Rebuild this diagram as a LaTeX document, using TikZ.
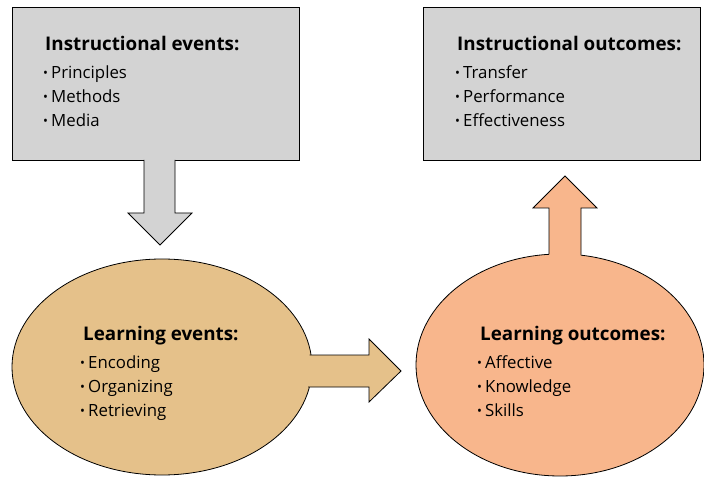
\documentclass[tikz,border=0pt]{standalone}
\usepackage{fontspec}
\setmainfont{Open Sans}
\usetikzlibrary{shapes.geometric}
\definecolor{boxgray}{RGB}{211,211,211}
\definecolor{tanfill}{RGB}{229,193,138}
\definecolor{salmonfill}{RGB}{248,182,140}
\newcommand\bul{\makebox[8pt][l]{\raisebox{1pt}{\fontsize{13}{13}\selectfont•}}}
\tikzset{
  box/.style={draw=black, fill=boxgray, line width=0.8pt, inner sep=0pt, anchor=north west},
  oval/.style={ellipse, draw=black, line width=0.8pt, inner sep=0pt},
  txt/.style={anchor=base west, align=left, inner sep=0pt, font=\fontsize{16.8}{24}\selectfont},
  outline/.style={draw=black, line width=0.8pt, line join=miter},
}
\newcommand\hd[1]{{\bfseries\fontsize{18.8}{24}\selectfont #1}\\[4pt]}
\begin{document}
\begin{tikzpicture}[x=1pt,y=-1pt]
\useasboundingbox (0,0) rectangle (704,478);
% boxes and ovals
\node[box, minimum width=287pt, minimum height=153pt] (ie) at (12,7) {};
\node[box, minimum width=277pt, minimum height=153pt] (io) at (423,7) {};
\node[oval, fill=tanfill, minimum width=300pt, minimum height=216pt] (le) at (162,367) {};
\node[oval, fill=salmonfill, minimum width=288pt, minimum height=222pt] (lo) at (560,365) {};
% down arrow
\fill[boxgray] (144,150) -- (144,213) -- (128,213) -- (160,245) -- (192,213) -- (175,213) -- (175,150) -- cycle;
\draw[outline] (144,160) -- (144,213) -- (128,213) -- (160,245) -- (192,213) -- (175,213) -- (175,160);
% right arrow
\fill[tanfill] (295,355) -- (369,355) -- (369,339) -- (401,371) -- (369,402) -- (369,387) -- (295,387) -- cycle;
\draw[outline] (309.5,355) -- (369,355) -- (369,339) -- (401,371) -- (369,402) -- (369,387) -- (308,387);
% up arrow
\fill[salmonfill] (549,270) -- (549,208) -- (533,208) -- (565,176) -- (597,208) -- (581,208) -- (581,270) -- cycle;
\draw[outline] (549,254.4) -- (549,208) -- (533,208) -- (565,176) -- (597,208) -- (581,208) -- (581,255.3);
% texts (anchored at the baseline of the last line)
\node[txt] (iet) at (43,127) {\hd{\hspace*{2pt}Instructional events:}\bul Principles\\ \bul Methods\\ \bul Media};
\node[txt] (iot) at (455,127) {\hd{\hspace*{2pt}Instructional outcomes:}\bul Transfer\\ \bul Performance\\ \bul Effectiveness};
\node[txt] (let) at (80,416) {\hd{\hspace*{3pt}Learning events:}\bul Encoding\\ \bul Organizing\\ \bul Retrieving};
\node[txt] (lot) at (477,416) {\hd{\hspace*{3pt}Learning outcomes:}\bul Affective\\ \bul Knowledge\\ \bul Skills};
\end{tikzpicture}
\end{document}
